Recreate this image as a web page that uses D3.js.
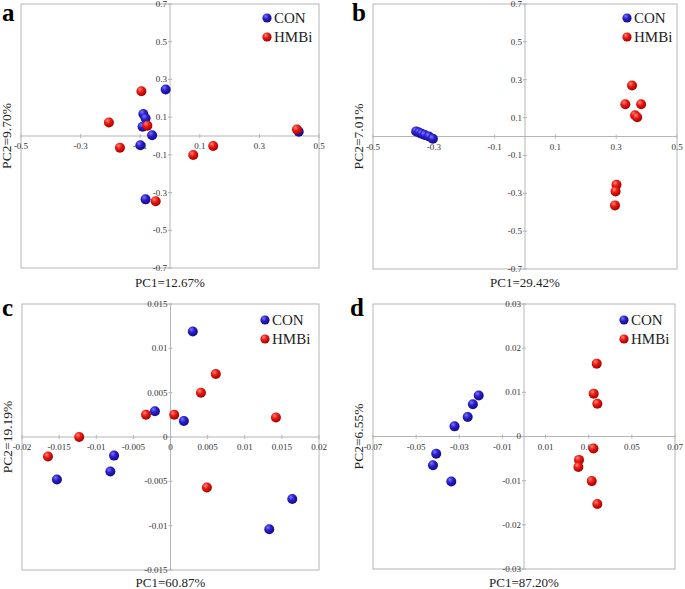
<!DOCTYPE html>
<html>
<head>
<meta charset="utf-8">
<script src="https://cdn.jsdelivr.net/npm/d3@7"></script>
<style>
  body { margin: 0; background: #fff; }
  svg { display: block; }
  text { font-family: "Liberation Serif", "DejaVu Serif", serif; }
</style>
</head>
<body>
<svg id="chart" width="685" height="589" font-family="Liberation Serif, DejaVu Serif, serif"></svg>
<script>
// panel a
const conA = [[-0.0145, 0.247], [-0.0895, 0.117], [-0.082, 0.094], [-0.092, 0.049], [-0.060, 0.004], [-0.0995, -0.049], [-0.082, -0.336], [0.432, 0.023]]
const hmbiA = [[-0.096, 0.237], [-0.205, 0.072], [-0.076, 0.055], [-0.168, -0.062], [0.078, -0.101], [0.145, -0.053], [-0.048, -0.346], [0.426, 0.034]]
// panel b
const conB = [[-0.358, 0.027], [-0.349, 0.021], [-0.340, 0.015], [-0.330, 0.008], [-0.316, 0.000], [-0.303, -0.012]]
const hmbiB = [[0.352, 0.269], [0.330, 0.170], [0.382, 0.170], [0.362, 0.112], [0.369, 0.102], [0.301, -0.255], [0.298, -0.290], [0.296, -0.364]]
// panel c
const conC = [[0.0030, 0.0119], [-0.0021, 0.0029], [0.0018, 0.0018], [-0.0076, -0.0021], [-0.0081, -0.0039], [-0.0153, -0.0048], [0.0164, -0.0070], [0.0133, -0.0104]]
const hmbiC = [[0.0061, 0.0071], [0.0041, 0.0050], [-0.0033, 0.0025], [0.0005, 0.0025], [0.0142, 0.0022], [-0.0123, 0.0000], [-0.0165, -0.0022], [0.0049, -0.0057]]
// panel d
const conD = [[-0.0210, 0.0093], [-0.0237, 0.0073], [-0.0261, 0.0044], [-0.0322, 0.0023], [-0.0407, -0.0039], [-0.0422, -0.0065], [-0.0337, -0.0102]]
const hmbiD = [[0.0337, 0.0165], [0.0323, 0.0097], [0.0340, 0.0074], [0.0322, -0.0027], [0.0255, -0.0053], [0.0252, -0.0069], [0.0314, -0.0101], [0.0340, -0.0153]]

const ticksAB = { x: [-0.5, -0.3, -0.1, 0.1, 0.3, 0.5], y: [0.7, 0.5, 0.3, 0.1, -0.1, -0.3, -0.5, -0.7] }
const ticksC = { x: [-0.02, -0.015, -0.01, -0.005, 0, 0.005, 0.01, 0.015, 0.02], y: [0.015, 0.01, 0.005, 0, -0.005, -0.01, -0.015] }
const ticksD = { x: [-0.07, -0.05, -0.03, -0.01, 0.01, 0.03, 0.05, 0.07], y: [0.03, 0.02, 0.01, 0, -0.01, -0.02, -0.03] }

const groups = ["CON", "HMBi"]

const panels = [
    { letter: "a", con: conA, hmbi: hmbiA, ticks: ticksAB, xDom: [-0.5, 0.5], yDom: [-0.7, 0.7], xLabel: "PC1=12.67%", yLabel: "PC2=9.70%",
      box: { left: 21, right: 319, top: 4, bottom: 268 }, titleY: 287, letterPos: [2, 21], legendPos: [267, 18] },
    { letter: "b", con: conB, hmbi: hmbiB, ticks: ticksAB, xDom: [-0.5, 0.5], yDom: [-0.7, 0.7], xLabel: "PC1=29.42%", yLabel: "PC2=7.01%",
      box: { left: 373, right: 677, top: 4, bottom: 269 }, titleY: 287, letterPos: [352, 21], legendPos: [627, 18] },
    { letter: "c", con: conC, hmbi: hmbiC, ticks: ticksC, xDom: [-0.02, 0.02], yDom: [-0.015, 0.015], xLabel: "PC1=60.87%", yLabel: "PC2=19.19%",
      box: { left: 22, right: 319, top: 304, bottom: 570 }, titleY: 587, letterPos: [2, 316], legendPos: [265, 320] },
    { letter: "d", con: conD, hmbi: hmbiD, ticks: ticksD, xDom: [-0.07, 0.07], yDom: [-0.03, 0.03], xLabel: "PC1=87.20%", yLabel: "PC2=6.55%",
      box: { left: 373, right: 675, top: 304, bottom: 569 }, titleY: 587, letterPos: [350, 316], legendPos: [624, 320] }
]

const svg = d3.select("#chart")

// sphere-like gradients
const defs = svg.append("defs")
const makeGradient = function (id, light, mid, dark) {
    const g = defs.append("radialGradient").attr("id", id)
        .attr("cx", "40%").attr("cy", "35%").attr("r", "65%").attr("fx", "35%").attr("fy", "30%")
    g.append("stop").attr("offset", "0%").attr("stop-color", light)
    g.append("stop").attr("offset", "45%").attr("stop-color", mid)
    g.append("stop").attr("offset", "100%").attr("stop-color", dark)
}
makeGradient("gradCON", "#7a7aff", "#2a1fd0", "#140a80")
makeGradient("gradHMBi", "#ff8a80", "#ee1a10", "#a00000")
const fills = { CON: "url(#gradCON)", HMBi: "url(#gradHMBi)" }

const drawPanel = function (p) {
    const b = p.box
    const x = d3.scaleLinear().domain(p.xDom).range([b.left, b.right])
    const y = d3.scaleLinear().domain(p.yDom).range([b.bottom, b.top])
    const g = svg.append("g")
    const cx = x(0), cy = y(0)

    g.append("rect")
        .attr("x", b.left).attr("y", b.top)
        .attr("width", b.right - b.left).attr("height", b.bottom - b.top)
        .attr("fill", "none").attr("stroke", "#b5b5b5").attr("stroke-width", 1)

    // center axes
    g.append("line").attr("x1", b.left).attr("x2", b.right).attr("y1", cy).attr("y2", cy)
        .attr("stroke", "#b5b5b5")
    g.append("line").attr("x1", cx).attr("x2", cx).attr("y1", b.top).attr("y2", b.bottom)
        .attr("stroke", "#b5b5b5")

    g.selectAll(".xt").data(p.ticks.x).join("line")
        .attr("x1", d => x(d)).attr("x2", d => x(d)).attr("y1", cy - 2).attr("y2", cy + 2)
        .attr("stroke", "#b5b5b5")
    g.selectAll(".yt").data(p.ticks.y).join("line")
        .attr("x1", cx - 2).attr("x2", cx + 2).attr("y1", d => y(d)).attr("y2", d => y(d))
        .attr("stroke", "#b5b5b5")

    g.selectAll(".xl").data(p.ticks.x).join("text")
        .attr("x", d => x(d)).attr("y", cy + 13)
        .attr("text-anchor", "middle").attr("font-size", 9).attr("fill", "#333")
        .text(d => String(d))
    g.selectAll(".yl").data(p.ticks.y).join("text")
        .attr("x", cx - 3).attr("y", d => y(d)).attr("dy", "0.33em")
        .attr("text-anchor", "end").attr("font-size", 9).attr("fill", "#333")
        .text(d => String(d))

    // axis titles
    g.append("text").attr("x", cx).attr("y", p.titleY)
        .attr("text-anchor", "middle").attr("font-size", 13).attr("fill", "#222")
        .text(p.xLabel)
    g.append("text")
        .attr("transform", `translate(${b.left - 10},${(b.top + b.bottom) / 2}) rotate(-90)`)
        .attr("text-anchor", "middle").attr("font-size", 13.5).attr("fill", "#222")
        .text(p.yLabel)

    g.append("text").attr("x", p.letterPos[0]).attr("y", p.letterPos[1])
        .attr("font-size", 25).attr("font-weight", "bold").attr("fill", "#000")
        .text(p.letter)

    // points
    const pts = p.con.map(d => ({ group: "CON", x: d[0], y: d[1] }))
        .concat(p.hmbi.map(d => ({ group: "HMBi", x: d[0], y: d[1] })))
    g.selectAll(".pt").data(pts).join("circle")
        .attr("cx", d => x(d.x)).attr("cy", d => y(d.y)).attr("r", 5)
        .attr("fill", d => fills[d.group])

    // legend
    groups.forEach((grp, i) => {
        const ly = p.legendPos[1] + i * 19
        g.append("circle").attr("cx", p.legendPos[0]).attr("cy", ly).attr("r", 4.6)
            .attr("fill", fills[grp])
        g.append("text").attr("x", p.legendPos[0] + 7).attr("y", ly).attr("dy", "0.36em")
            .attr("font-size", 15).attr("fill", "#222")
            .text(grp)
    })
}

panels.forEach(drawPanel)
</script>
</body>
</html>
